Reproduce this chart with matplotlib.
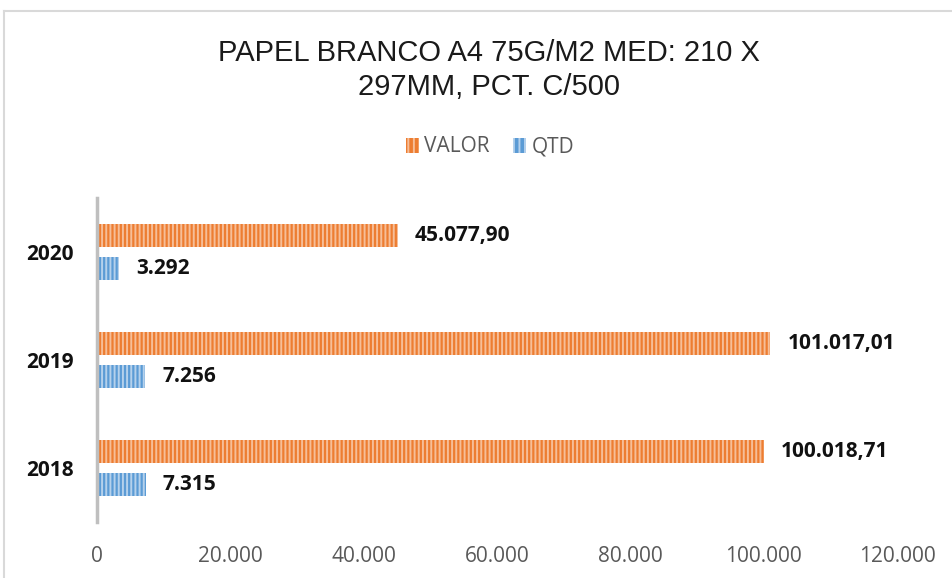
import matplotlib
matplotlib.use("Agg")
import matplotlib.pyplot as plt
import numpy as np
from matplotlib.lines import Line2D
from matplotlib.patches import Patch

years = ["2018", "2019", "2020"]
valor = [100018.71, 101017.01, 45077.90]
qtd = [7315, 7256, 3292]
valor_labels = ["100.018,71", "101.017,01", "45.077,90"]
qtd_labels = ["7.315", "7.256", "3.292"]
xticks = [0, 20000, 40000, 60000, 80000, 100000, 120000]
xtick_labels = ["0", "20.000", "40.000", "60.000", "80.000", "100.000", "120.000"]

orange = "#ED7D31"
blue = "#5B9BD5"
OS = ["Open Sans", "DejaVu Sans"]

plt.rcParams['font.family'] = ['Liberation Sans', 'DejaVu Sans']
plt.rcParams['hatch.linewidth'] = 1.4

W, H = 953, 578
fig = plt.figure(figsize=(W/100, H/100), dpi=100)
ax = fig.add_axes([97/W, (H-522)/H, 800/W, (522-198)/H])

y = np.arange(len(years))
bh = 0.21
off = 0.155
for i in range(len(years)):
    ax.barh(y[i] + off, valor[i], height=bh, color=orange, edgecolor="#F6BE98",
            hatch="||||", linewidth=0)
    ax.barh(y[i] - off, qtd[i], height=bh, color=blue, edgecolor="#B5D1EC",
            hatch="||||", linewidth=0)
    ax.text(valor[i] + 2550, y[i] + off, valor_labels[i], va="center", ha="left",
            fontsize=15, fontweight="bold", color="#111111", family=OS)
    ax.text(qtd[i] + 2550, y[i] - off, qtd_labels[i], va="center", ha="left",
            fontsize=15, fontweight="bold", color="#111111", family=OS)

ax.set_xlim(0, 120000)
ax.set_ylim(-0.5, 2.5)
ax.set_yticks(y)
ax.set_yticklabels(years, fontsize=15, fontweight="bold", family=OS, color="#111111")
ax.set_xticks(xticks)
ax.set_xticklabels(xtick_labels, fontsize=15, color="#595959", family=OS)
ax.tick_params(axis="both", length=0)
ax.tick_params(axis="x", pad=17)
ax.tick_params(axis="y", pad=17)
for s in ["top", "right", "bottom"]:
    ax.spines[s].set_visible(False)
ax.spines["left"].set_color("#BFBFBF")
ax.spines["left"].set_linewidth(2.5)

fig.text(0.513, 1 - 70/H, "PAPEL BRANCO A4 75G/M2 MED: 210 X\n297MM, PCT. C/500",
         ha="center", va="center", fontsize=21, color="#1a1a1a", linespacing=1.3)

handles = [Patch(facecolor=orange, edgecolor="#F6BE98", hatch="|||", linewidth=0, label="VALOR"),
           Patch(facecolor=blue, edgecolor="#B5D1EC", hatch="|||", linewidth=0, label="QTD")]
leg = fig.legend(handles=handles, loc="center", bbox_to_anchor=(490/W, 1 - 147/H), ncol=2,
                 frameon=False, handlelength=0.65, handleheight=0.7,
                 handletextpad=0.25, columnspacing=1.1, prop={"family": OS, "size": 15})
for t in leg.get_texts():
    t.set_color("#595959")

# chart border
fig.add_artist(Line2D([4/W, 1], [1 - 11/H, 1 - 11/H], color="#D9D9D9", lw=1.5, transform=fig.transFigure))
fig.add_artist(Line2D([4/W, 4/W], [0, 1 - 11/H], color="#D9D9D9", lw=1.5, transform=fig.transFigure))

fig.savefig("out.png", dpi=100)
